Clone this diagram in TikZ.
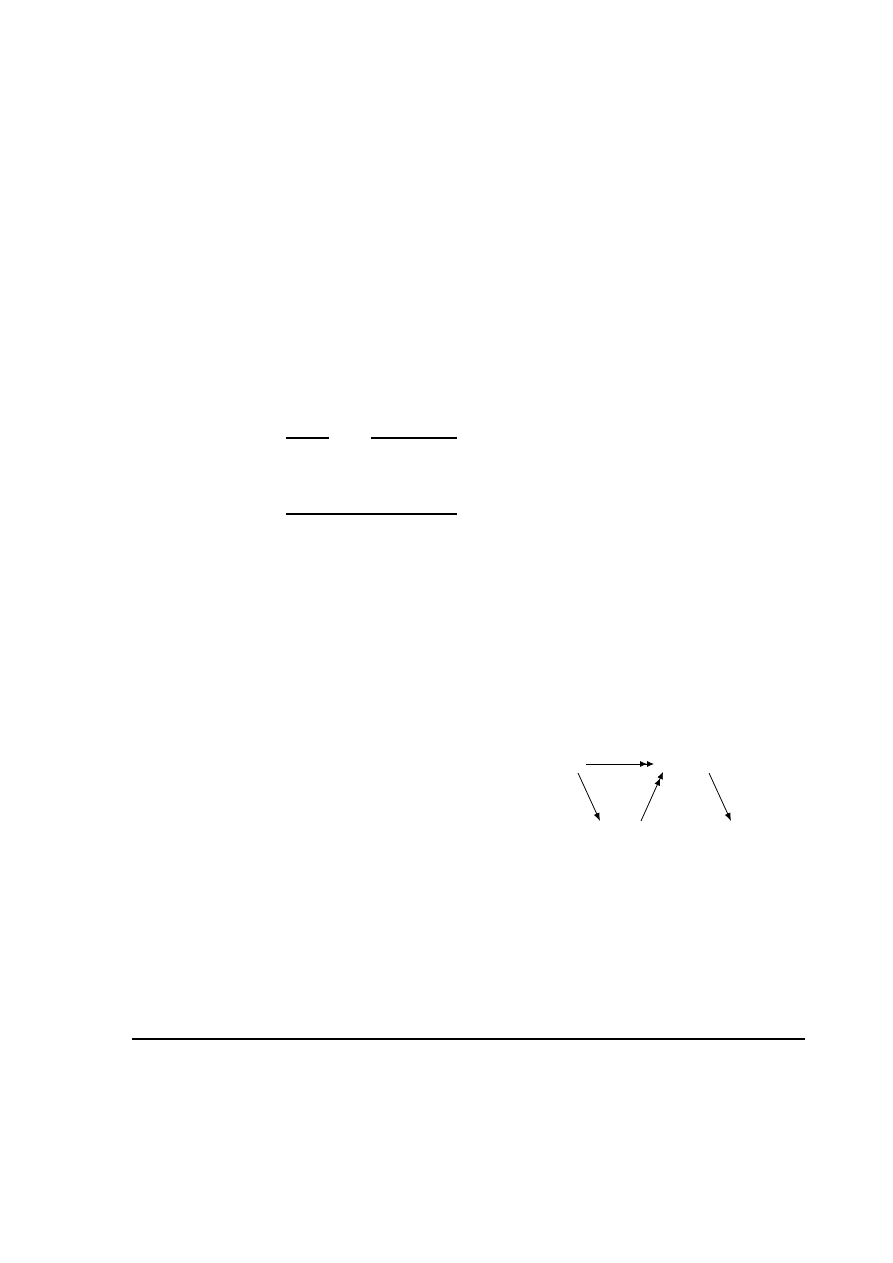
\documentclass[tikz,border=0pt]{standalone}
\usetikzlibrary{arrows.meta,positioning,calc}

\begin{document}
\begin{tikzpicture}[x=1pt,y=-1pt,>={Latex[length=8pt,width=6pt]},line width=1pt]

    \tikzstyle{rule}=[line width=1.1pt,-]
    \tikzstyle{arr}=[line width=0.8pt,->]
    \tikzstyle{darr}=[line width=0.8pt,-{Latex[length=7pt,width=6pt]Latex[length=7pt,width=6pt]}]

    \useasboundingbox (0,0) rectangle (893,1263);

    % upper rules
    \coordinate (A1) at (286,438);
    \coordinate (A2) at (329,438);
    \coordinate (B1) at (371,438);
    \coordinate (B2) at (457,438);
    \coordinate (C1) at (286,514);
    \coordinate (C2) at (457,514);

    % arrows
    \coordinate (H1) at (586,764);
    \coordinate (H2) at (654,764);
    \coordinate (L1) at (578,773);
    \coordinate (L2) at (600,821);
    \coordinate (M1) at (641,821);
    \coordinate (M2) at (663,772);
    \coordinate (R1) at (709,773);
    \coordinate (R2) at (731,821);

    % bottom rule
    \coordinate (F1) at (132,1039);
    \coordinate (F2) at (805,1039);

    \draw[rule] (A1) -- (A2);
    \draw[rule] (B1) -- (B2);
    \draw[rule] (C1) -- (C2);

    \path (H1) edge[darr] (H2)
          (L1) edge[arr]  (L2)
          (M1) edge[darr] (M2)
          (R1) edge[arr]  (R2);

    \draw[rule] (F1) -- (F2);
\end{tikzpicture}
\end{document}
